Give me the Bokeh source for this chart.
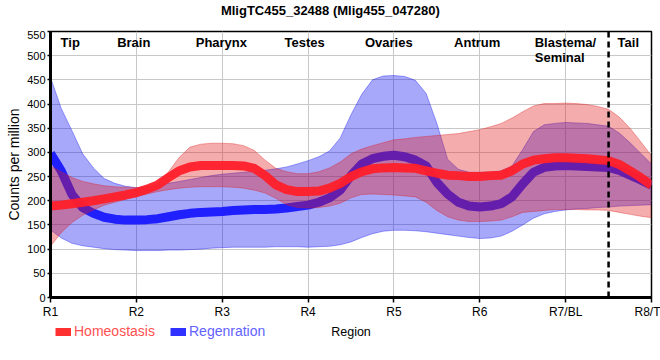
from bokeh.plotting import figure
from bokeh.layouts import column
from bokeh.models import ColumnDataSource, FixedTicker, Span, Legend, LegendItem, Label
from bokeh.core.properties import value
from bokeh.embed import file_html
from bokeh.resources import INLINE

# ---------------- data ----------------
title_text = "MligTC455_32488 (Mlig455_047280)"
region_pos = [1, 2, 3, 4, 5, 6, 7, 8]
region_ticks = ["R1", "R2", "R3", "R4", "R5", "R6", "R7/BL", "R8/T"]

tissue_names = ["Tip", "Brain", "Pharynx", "Testes", "Ovaries", "Antrum", "Tail"]
tissue_x = [1.23, 1.97, 2.99, 3.96, 4.94, 5.97, 7.73]
blastema_name = ["Blastema/\nSeminal"]
blastema_x = [6.64]

x = [1.0, 1.125, 1.25, 1.375, 1.5, 1.625, 1.75, 1.875,
     2.0, 2.125, 2.25, 2.375, 2.5, 2.625, 2.75, 2.875,
     3.0, 3.125, 3.25, 3.375, 3.5, 3.625, 3.75, 3.875,
     4.0, 4.125, 4.25, 4.375, 4.5, 4.625, 4.75, 4.875,
     5.0, 5.125, 5.25, 5.375, 5.5, 5.625, 5.75, 5.875,
     6.0, 6.125, 6.25, 6.375, 6.5, 6.625, 6.75, 6.875,
     7.0, 7.125, 7.25, 7.375, 7.5, 7.625, 7.75, 7.875, 8.0]

homeo_mean = [189, 191, 194, 197, 200, 204, 208, 212,
              217, 224, 233, 248, 262, 270, 273, 273,
              273, 273, 272, 267, 252, 233, 223, 219,
              219, 220, 226, 236, 250, 260, 266, 268,
              269, 268, 267, 262, 257, 253, 252, 250,
              250, 252, 253, 262, 276, 284, 287, 289,
              289, 288, 287, 285, 283, 275, 262, 248, 232]
homeo_upper = [272, 260, 248, 240, 235, 231, 229, 228,
               227, 229, 236, 260, 290, 311, 317, 319,
               319, 318, 314, 304, 284, 267, 260, 256,
               256, 260, 268, 280, 297, 307, 314, 320,
               326, 328, 331, 333, 335, 337, 339, 343,
               347, 353, 360, 371, 384, 396, 401, 401,
               402, 401, 399, 395, 389, 373, 350, 322, 293]
homeo_lower = [106, 134, 155, 170, 181, 191, 197, 203,
               208, 214, 219, 223, 226, 228, 229, 229,
               229, 228, 226, 222, 216, 205, 192, 186,
               185, 186, 189, 195, 206, 213, 214, 213,
               212, 210, 208, 197, 180, 167, 160, 157,
               157, 158, 160, 167, 176, 178, 180, 182,
               182, 182, 181, 181, 180, 176, 172, 168, 165]

regen_mean = [298, 262, 213, 186, 174, 166, 162, 160,
              160, 161, 163, 167, 171, 174, 176, 177,
              178, 180, 181, 182, 182, 183, 185, 188,
              191, 197, 206, 222, 252, 276, 287, 292,
              294, 291, 284, 272, 238, 214, 197, 189,
              187, 189, 194, 208, 235, 259, 269, 272,
              273, 272, 271, 270, 269, 263, 253, 243, 232]
regen_upper = [455, 391, 345, 297, 268, 246, 236, 230,
               227, 229, 232, 236, 240, 244, 248, 252,
               255, 257, 259, 261, 263, 266, 270, 276,
               283, 291, 303, 330, 378, 420, 450, 458,
               459, 457, 449, 422, 360, 286, 265, 259,
               259, 259, 262, 272, 306, 343, 357, 360,
               362, 361, 360, 357, 354, 340, 320, 298, 276]
regen_lower = [140, 123, 112, 107, 104, 101, 99, 98,
               97, 97, 97, 98, 98, 99, 100, 102,
               103, 104, 104, 104, 104, 105, 105, 105,
               104, 105, 106, 109, 115, 124, 132, 137,
               139, 139, 138, 136, 133, 130, 127, 124,
               122, 123, 127, 137, 150, 164, 173, 178,
               181, 183, 184, 186, 187, 189, 190, 191, 192]

y_ticks = [0, 50, 100, 150, 200, 250, 300, 350, 400, 450, 500, 550]
tail_boundary = 7.5
series_names = ["Homeostasis", "Regenration"]

FONT = "Liberation Sans"
src = ColumnDataSource(dict(x=x, hm=homeo_mean, hu=homeo_upper, hl=homeo_lower,
                            rm=regen_mean, ru=regen_upper, rl=regen_lower))


def strip(height, y_max):
    f = figure(width=660, height=height, x_range=(1, 8), y_range=(0, y_max),
               output_backend="svg", toolbar_location=None,
               x_axis_location=None, y_axis_location=None,
               min_border_left=50, min_border_right=9, min_border_top=0,
               min_border_bottom=0)
    f.grid.visible = False
    f.outline_line_color = None
    f.background_fill_color = "white"
    f.border_fill_color = "white"
    return f


# ---------------- title strip ----------------
t = strip(30, 30)
t.add_layout(Label(x=4.26, y=20, text=title_text, text_align="center",
                   text_baseline="middle", text_font=FONT, text_font_size="13px",
                   text_font_style="bold", text_color="black"))

# ---------------- main figure ----------------
p = figure(width=660, height=291, x_range=(1, 8), y_range=(0, 550),
           output_backend="svg", toolbar_location=None,
           min_border_left=50, min_border_right=9, min_border_top=1,
           min_border_bottom=21)

BLUE = "#0000f0"
RED = "#e01818"

# regeneration band + line
p.varea(x="x", y1="rl", y2="ru", source=src, fill_color=BLUE, fill_alpha=0.34)
p.line(x="x", y="ru", source=src, line_color=BLUE, line_alpha=0.35, line_width=1)
p.line(x="x", y="rl", source=src, line_color=BLUE, line_alpha=0.35, line_width=1)
p.line(x="x", y="rm", source=src, line_color="#2020ff", line_width=9,
       line_join="round", line_cap="butt")

# homeostasis band + line
p.varea(x="x", y1="hl", y2="hu", source=src, fill_color=RED, fill_alpha=0.36)
p.line(x="x", y="hu", source=src, line_color=RED, line_alpha=0.35, line_width=1)
p.line(x="x", y="hl", source=src, line_color=RED, line_alpha=0.35, line_width=1)
p.line(x="x", y="hm", source=src, line_color="#ff1f2a", line_alpha=0.95,
       line_width=9, line_join="round", line_cap="butt")

# dashed tail boundary
p.add_layout(Span(location=tail_boundary, dimension="height", line_color="black",
                  line_width=2.5, line_dash="6 4"))

# tissue labels
p.text(x=tissue_x, y=[550] * len(tissue_x), text=tissue_names,
       text_font=value(FONT), text_font_size="13px", text_font_style="bold",
       text_align="center", text_baseline="top", y_offset=3, text_color="black")
p.text(x=blastema_x, y=[550], text=blastema_name,
       text_font=value(FONT), text_font_size="13px", text_font_style="bold",
       text_align="left", text_baseline="top", y_offset=3, text_color="black",
       text_line_height=1.05)

# axes
p.xaxis.ticker = FixedTicker(ticks=region_pos)
p.xaxis.major_label_overrides = {k: v for k, v in zip(region_pos, region_ticks)}
p.yaxis.ticker = FixedTicker(ticks=y_ticks)
p.yaxis.axis_label = "Counts per million"
for ax in (p.xaxis, p.yaxis):
    ax.axis_line_width = 3
    ax.axis_line_color = "black"
    ax.major_tick_line_color = "black"
    ax.major_tick_line_width = 1.5
    ax.major_tick_in = 0
    ax.minor_tick_line_color = None
    ax.major_label_text_font = FONT
    ax.major_label_text_color = "black"
    ax.axis_label_text_font = FONT
    ax.axis_label_text_font_style = "normal"
    ax.axis_label_text_font_size = "14px"
    ax.axis_label_text_color = "black"
p.xaxis.major_tick_out = 5
p.yaxis.major_tick_out = 3
p.xaxis.major_label_text_font_size = "12px"
p.yaxis.major_label_text_font_size = "11px"
p.xaxis.major_label_standoff = 2
p.yaxis.major_label_standoff = 2
p.yaxis.axis_label_standoff = 2

p.xgrid.ticker = FixedTicker(ticks=region_pos)
p.ygrid.ticker = FixedTicker(ticks=y_ticks)
p.grid.grid_line_color = "#c8c8c8"
p.grid.grid_line_width = 1
p.outline_line_color = "black"
p.outline_line_width = 1.5
p.background_fill_color = "white"
p.border_fill_color = "white"

# ---------------- legend / axis-title strip ----------------
q = strip(39, 39)
# series lines drawn in the strip fall outside its small y-range (hidden);
# they only supply the legend swatches
lh = q.line(x="x", y="hm", source=src, line_color="#ff3030", line_width=8,
            line_cap="butt")
lr = q.line(x="x", y="rm", source=src, line_color="#3030ff", line_width=8,
            line_cap="butt")


def make_legend(label, rend, loc, color):
    return Legend(items=[LegendItem(label=label, renderers=[rend])], location=loc,
                  orientation="horizontal", glyph_width=16, glyph_height=9,
                  label_height=16, label_standoff=3, padding=0, margin=0,
                  border_line_color=None, background_fill_alpha=0,
                  label_text_color=color, label_text_font=FONT,
                  label_text_font_size="14px")


q.add_layout(make_legend(series_names[0], lh, (5, 21), "#ff5050"))
q.add_layout(make_legend(series_names[1], lr, (120, 21), "#6262ff"))
q.add_layout(Label(x=4.5, y=29, text="Region", text_align="center",
                   text_baseline="middle", text_font=FONT, text_font_size="12.5px",
                   text_color="black"))

layout = column(t, p, q, spacing=0)
open("out.html", "w").write(file_html(layout, INLINE))
